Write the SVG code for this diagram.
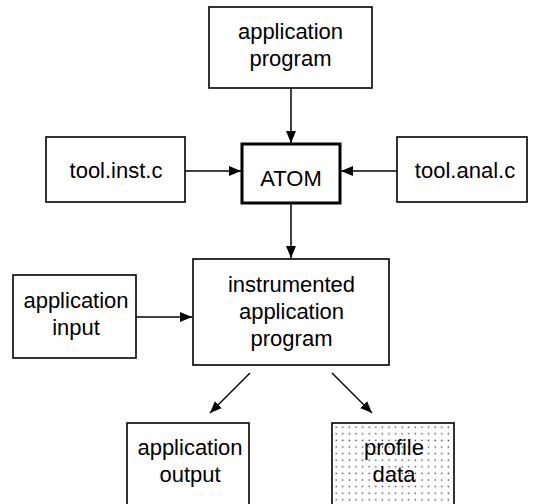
<svg xmlns="http://www.w3.org/2000/svg" width="535" height="504" viewBox="0 0 535 504">
<style>
.box{fill:#fff;stroke:#000;stroke-width:1.6}
.thick{fill:#fff;stroke:#000;stroke-width:3}
.t{font-family:"Liberation Sans",Arial,sans-serif;font-size:22px;fill:#000;text-anchor:middle}
.c{stroke:#000;stroke-width:1.5;fill:none;marker-end:url(#ah)}
</style>
<defs>
<marker id="ah" viewBox="0 0 12 10" refX="12" refY="5" markerWidth="12" markerHeight="10" markerUnits="userSpaceOnUse" orient="auto">
<path d="M0,0 L12,5 L0,10 Z" fill="#000"/>
</marker>
<pattern id="dots" width="6.6" height="6.6" patternUnits="userSpaceOnUse" x="333" y="424">
<rect x="2.5" y="2.5" width="1.4" height="1.4" fill="#444"/>
</pattern>
</defs>
<rect width="535" height="504" fill="#fff"/>
<g id="connectors">
<line class="c" x1="291" y1="88" x2="291" y2="143"/>
<line class="c" x1="185" y1="171" x2="241" y2="171"/>
<line class="c" x1="397" y1="171" x2="341" y2="171"/>
<line class="c" x1="291" y1="203" x2="291" y2="258"/>
<line class="c" x1="136" y1="317" x2="192" y2="317"/>
<line class="c" x1="250" y1="373" x2="210" y2="413"/>
<line class="c" x1="332" y1="373" x2="372" y2="413"/>
</g>
<g id="app-program">
<rect class="box" x="209" y="7" width="163" height="81"/>
<text class="t" x="290.5" y="39">application</text>
<text class="t" x="290.5" y="66">program</text>
</g>
<g id="atom">
<rect class="thick" x="242" y="144" width="98" height="59"/>
<text class="t" x="291" y="186">ATOM</text>
</g>
<g id="tool-inst">
<rect class="box" x="46" y="137" width="139" height="65"/>
<text class="t" x="116" y="178">tool.inst.c</text>
</g>
<g id="tool-anal">
<rect class="box" x="397" y="137" width="130" height="65"/>
<text class="t" x="465" y="178">tool.anal.c</text>
</g>
<g id="app-input">
<rect class="box" x="13" y="275" width="123" height="83"/>
<text class="t" x="76" y="308">application</text>
<text class="t" x="76" y="335">input</text>
</g>
<g id="instrumented">
<rect class="box" x="193" y="259" width="196" height="106"/>
<text class="t" x="291.5" y="292">instrumented</text>
<text class="t" x="291.5" y="319">application</text>
<text class="t" x="291.5" y="346">program</text>
</g>
<g id="app-output">
<rect class="box" x="127" y="423" width="122" height="90"/>
<text class="t" x="190" y="455">application</text>
<text class="t" x="190" y="482">output</text>
</g>
<g id="profile-data">
<rect class="box" x="332" y="423" width="122" height="90" style="fill:url(#dots)"/>
<text class="t" x="394" y="455">profile</text>
<text class="t" x="394" y="482">data</text>
</g>
</svg>
